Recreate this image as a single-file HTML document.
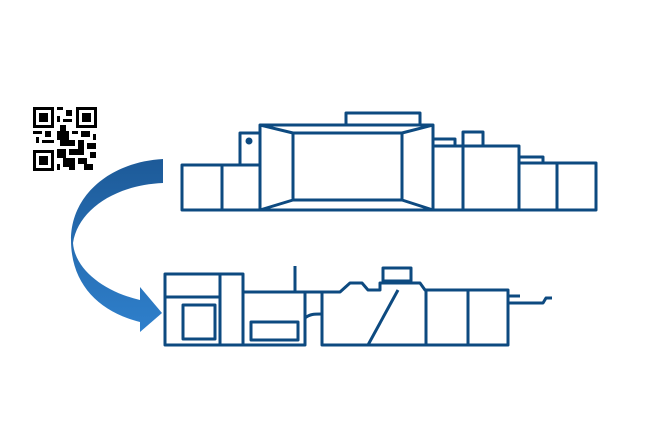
<!DOCTYPE html>
<html><head><style>html,body{margin:0;padding:0;background:#fff;width:645px;height:430px;overflow:hidden}</style></head>
<body>
<svg width="645" height="430" viewBox="0 0 645 430" xmlns="http://www.w3.org/2000/svg">
<defs><linearGradient id="g" x1="0" y1="0" x2="0" y2="1"><stop offset="0" stop-color="#1d5a98"/><stop offset="1" stop-color="#2f80cc"/></linearGradient></defs>
<!-- QR -->
<g fill="#000">
<rect x="33" y="107" width="21" height="21"/><rect x="36" y="110" width="15" height="15" fill="#fff"/><rect x="39" y="113" width="9" height="9"/>
<rect x="76" y="107" width="21" height="21"/><rect x="79" y="110" width="15" height="15" fill="#fff"/><rect x="82" y="113" width="9" height="9"/>
<rect x="33" y="150" width="21" height="21"/><rect x="36" y="153" width="15" height="15" fill="#fff"/><rect x="39" y="156" width="9" height="9"/>
<rect x="57" y="107" width="6" height="3"/><rect x="66" y="110" width="6" height="6"/><rect x="57" y="116" width="3" height="6"/><rect x="63" y="119" width="9" height="3"/><rect x="60" y="125" width="6" height="6"/>
<rect x="33" y="131" width="9" height="3"/><rect x="45" y="131" width="6" height="6"/><rect x="36" y="137" width="3" height="6"/><rect x="42" y="140" width="12" height="3"/>
<rect x="57" y="131" width="12" height="9"/><rect x="72" y="131" width="6" height="3"/><rect x="81" y="131" width="9" height="6"/><rect x="93" y="134" width="3" height="6"/>
<rect x="60" y="140" width="15" height="6"/><rect x="78" y="140" width="6" height="9"/><rect x="87" y="143" width="9" height="6"/>
<rect x="57" y="149" width="9" height="9"/><rect x="69" y="149" width="15" height="6"/><rect x="90" y="152" width="6" height="6"/>
<rect x="63" y="158" width="12" height="9"/><rect x="78" y="158" width="9" height="6"/><rect x="57" y="164" width="3" height="6"/><rect x="84" y="164" width="9" height="6"/><rect x="69" y="167" width="6" height="3"/>
</g>
<!-- arrow -->
<path d="M163,159 C110,162 71,195 71,240 C71,285 100,312 140,322 L140,332 L162,313 L140,287 L140,300 C105,292 75,270 73,243 C78,210 115,185 163,183 Z" fill="url(#g)"/>
<!-- top machine -->
<g fill="none" stroke="#0d4a80" stroke-width="3" stroke-linejoin="round">
<rect x="182" y="165" width="40" height="45"/><rect x="222" y="165" width="38" height="45"/>
<rect x="240" y="133" width="20" height="32"/>
<rect x="346" y="113" width="74" height="12"/>
<rect x="260" y="125" width="173" height="85"/>
<rect x="293" y="133" width="109" height="67"/>
<path d="M260,125 L293,133 M433,125 L402,133 M260,210 L293,200 M433,210 L402,200"/>
<rect x="433" y="139" width="22" height="7"/>
<rect x="433" y="146" width="30" height="64"/>
<rect x="463" y="132" width="20" height="14"/>
<rect x="463" y="146" width="56" height="64"/>
<rect x="519" y="157" width="24" height="6"/>
<rect x="519" y="163" width="38" height="47"/><rect x="557" y="163" width="39" height="47"/>
</g>
<circle cx="249" cy="141" r="3.5" fill="#0d4a80"/>
<!-- bottom machine -->
<g fill="none" stroke="#0d4a80" stroke-width="3" stroke-linejoin="round">
<rect x="165" y="274" width="78" height="71"/>
<path d="M165,297 H220 M220,274 V345"/>
<rect x="183" y="305" width="32" height="34"/>
<rect x="243" y="292" width="62" height="53"/>
<path d="M295,266 V292"/>
<rect x="251" y="322" width="47" height="18"/>
<path d="M305,292 H322 M305,318 C310,314 314,314 322,314"/>
<path d="M322,345 V292 H340 L350,283 H362 L368,290 H380 V283 H420 L425,290 H508 V345 Z"/>
<rect x="383" y="268" width="28" height="13"/>
<path d="M398,290 L368,345 M426,290 V345 M468,290 V345"/>
<path d="M508,296 H520 M508,303 H543 L546,298 H552"/>
</g>
</svg>
</body></html>
